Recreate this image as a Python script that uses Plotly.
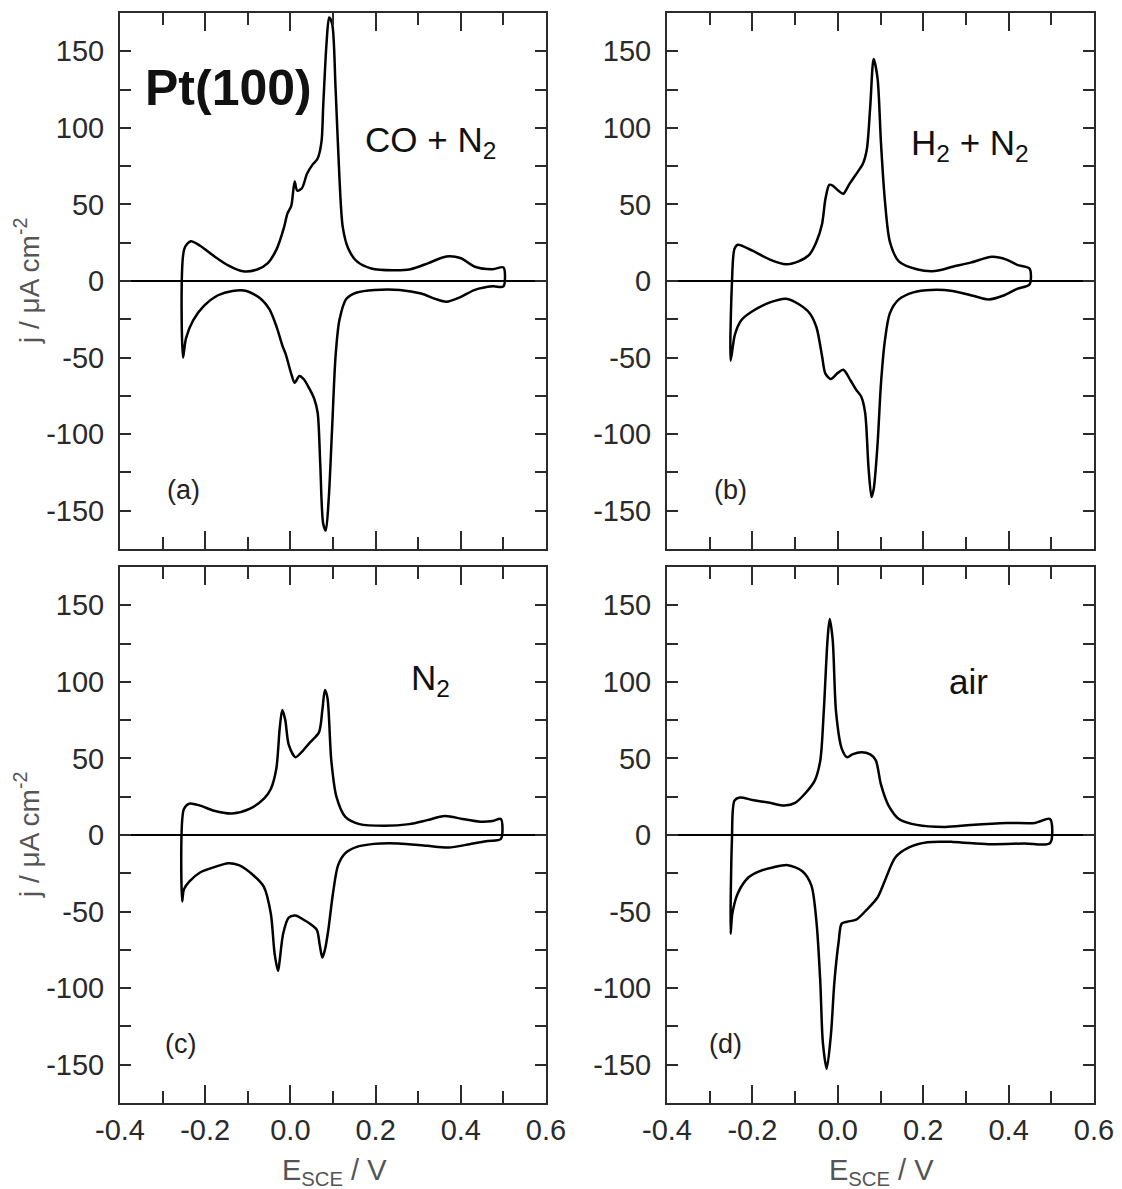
import plotly.graph_objects as go

# ---------------- data (E vs SCE in V, j in uA cm^-2) ----------------
# Panel (a) CO + N2 : anodic branch then cathodic branch (closed loop)
a_E = [-0.252, -0.249, -0.234, -0.212, -0.178, -0.145, -0.111, -0.078, -0.053, -0.032,
       -0.015, -0.007, 0.002, 0.010, 0.016, 0.027, 0.039, 0.052, 0.064, 0.073,
       0.077, 0.085, 0.091, 0.098, 0.106, 0.115, 0.123, 0.136, 0.156, 0.19,
       0.24, 0.282, 0.324, 0.366, 0.399, 0.433, 0.475, 0.5,
       0.5, 0.475, 0.433, 0.399, 0.366, 0.34, 0.307, 0.257, 0.198, 0.156,
       0.131, 0.115, 0.106, 0.098, 0.090, 0.083, 0.077, 0.07, 0.064, 0.056,
       0.044, 0.031, 0.021, 0.010, 0.002, -0.011, -0.019, -0.032, -0.049, -0.069,
       -0.103, -0.136, -0.17, -0.203, -0.228, -0.245, -0.252]
a_j = [-50, 21, 26, 23, 16, 10, 6.3, 7.5, 11.7, 21,
       35, 44, 49, 65, 59, 60.6, 70, 76, 80, 91,
       114, 156, 172, 168, 126, 68, 35, 21, 12.8, 8.2,
       7, 7.7, 11.7, 16, 15, 9.3, 7.7, 8.9,
       -3.5, -3.5, -5.8, -10.5, -13.5, -11.7, -8.2, -5.8, -5.8, -7.5,
       -11.7, -25.6, -49, -95.6, -142, -163, -158.5, -119, -86, -77,
       -70, -64, -62, -66.4, -60.6, -47.8, -42, -30.3, -18.6, -11.7,
       -6.5, -6.5, -9.3, -16.3, -25.6, -37.3, -50]

# Panel (b) H2 + N2
b_E = [-0.251, -0.248, -0.242, -0.234, -0.2, -0.159, -0.121, -0.092, -0.066, -0.05,
       -0.037, -0.029, -0.02, -0.012, 0.0, 0.013, 0.026, 0.043, 0.059, 0.068,
       0.076, 0.084, 0.093, 0.101, 0.110, 0.122, 0.143, 0.185, 0.227, 0.269,
       0.311, 0.361, 0.395, 0.42, 0.449,
       0.449, 0.42, 0.39, 0.353, 0.319, 0.269, 0.219, 0.177, 0.143, 0.122,
       0.110, 0.101, 0.093, 0.084, 0.079, 0.072, 0.064, 0.055, 0.043, 0.03,
       0.013, 0.0, -0.016, -0.029, -0.037, -0.05, -0.066, -0.092, -0.121, -0.159,
       -0.2, -0.226, -0.241, -0.251]
b_j = [-52, -2, 21, 23.7, 19.8, 14, 10.9, 12.8, 17.4, 25.6,
       37, 53.5, 62.8, 62.3, 59.3, 57, 62.8, 69.8, 76.7, 86,
       114, 145, 132.6, 90.7, 53.5, 25.6, 12.8, 7.7, 6.5, 9.3,
       12, 15.8, 14, 10.5, 8.1,
       -2.3, -5.1, -9.3, -12, -9.8, -6.5, -5.8, -7.4, -12, -21,
       -39.5, -67.4, -107, -136, -141, -122, -86, -75.6, -71, -65,
       -58, -60, -64, -60.5, -48.8, -30.2, -21, -15, -11.6, -14,
       -19.8, -25.6, -35, -52]

# Panel (c) N2
c_E = [-0.254, -0.25, -0.237, -0.212, -0.179, -0.137, -0.096, -0.062, -0.046, -0.033,
       -0.025, -0.019, -0.012, -0.004, 0.012, 0.029, 0.046, 0.067, 0.075, 0.081,
       0.087, 0.096, 0.108, 0.129, 0.162, 0.221, 0.279, 0.321, 0.362, 0.404,
       0.446, 0.475, 0.494,
       0.494, 0.463, 0.421, 0.371, 0.321, 0.254, 0.196, 0.154, 0.129, 0.112,
       0.1, 0.089, 0.081, 0.075, 0.069, 0.062, 0.046, 0.029, 0.012, -0.004,
       -0.017, -0.025, -0.029, -0.037, -0.046, -0.062, -0.087, -0.121, -0.146, -0.179,
       -0.212, -0.237, -0.25, -0.254]
c_j = [-43.4, 17, 20.5, 19.2, 15.8, 14, 17, 23.7, 30, 43.4,
       70, 81.6, 75, 59, 50.8, 55, 60.5, 67, 81.6, 94.7,
       89.5, 48.7, 25, 11.8, 7.1, 6, 7.1, 9.7, 12.4, 10.5,
       8.7, 9.2, 10.5,
       -2.6, -3.9, -6, -8.2, -7.1, -5.5, -5.8, -7.9, -11.8, -19.7,
       -38, -62, -75, -80, -72, -62, -58, -55, -52.6, -54,
       -64.5, -81.6, -88.7, -77.6, -51.3, -34, -26.3, -19.7, -18.4, -21,
       -24.5, -30.3, -35.5, -43.4]

# Panel (d) air
d_E = [-0.251, -0.248, -0.242, -0.23, -0.2, -0.159, -0.125, -0.1, -0.075, -0.054,
       -0.041, -0.033, -0.024, -0.019, -0.012, -0.004, 0.009, 0.022, 0.034, 0.055,
       0.076, 0.089, 0.101, 0.118, 0.143, 0.185, 0.252, 0.311, 0.395, 0.462,
       0.497,
       0.497, 0.437, 0.353, 0.269, 0.21, 0.168, 0.135, 0.11, 0.093, 0.068,
       0.043, 0.022, 0.009, 0.002, -0.008, -0.016, -0.026, -0.035, -0.041, -0.05,
       -0.062, -0.083, -0.117, -0.15, -0.184, -0.209, -0.234, -0.247, -0.251]
d_j = [-64.5, -4, 22.4, 24.5, 22.9, 21, 19.2, 21, 27.6, 35.5,
       48.7, 80, 127.6, 141, 127.6, 80, 56.6, 50.8, 52.6, 54,
       52.6, 48.7, 33, 19.7, 10.5, 6.6, 5.3, 6.6, 7.9, 7.9,
       10.5,
       -5.3, -5.5, -6, -4.5, -4.7, -7.9, -14.5, -30, -40.8, -48.7,
       -55.3, -56.6, -57.9, -69.7, -96, -130, -152.6, -135.5, -96, -56.6,
       -32.9, -23.7, -19.7, -21, -23.7, -27.6, -38, -51.3, -64.5]

x_tickvals = [-0.4, -0.2, 0.0, 0.2, 0.4, 0.6]
x_ticktext = ["-0.4", "-0.2", "0.0", "0.2", "0.4", "0.6"]
x_minorvals = [-0.3, -0.1, 0.1, 0.3, 0.5]
y_tickvals = [-150, -100, -50, 0, 50, 100, 150]
y_ticktext = ["-150", "-100", "-50", "0", "50", "100", "150"]
y_minorvals = [-125, -75, -25, 25, 75, 125]

gas_labels = ["CO + N<sub>2</sub>", "H<sub>2</sub> + N<sub>2</sub>", "N<sub>2</sub>", "air"]
panel_labels = ["(a)", "(b)", "(c)", "(d)"]

# ---------------- figure ----------------
W, H = 1122, 1189
FONT = "Liberation Sans, Arial, Helvetica, sans-serif"
FRAME = "#2b2b2b"

def px_x(p):
    return p / W

def px_y(p):
    return 1 - p / H

x_dom = [[px_x(120), px_x(546)], [px_x(667), px_x(1094)],
         [px_x(120), px_x(546)], [px_x(667), px_x(1094)]]
y_dom = [[px_y(549), px_y(13)], [px_y(549), px_y(13)],
         [px_y(1103), px_y(567)], [px_y(1103), px_y(567)]]

series = [(a_E, a_j), (b_E, b_j), (c_E, c_j), (d_E, d_j)]

fig = go.Figure()
for i, (E, j) in enumerate(series):
    sfx = "" if i == 0 else str(i + 1)
    fig.add_trace(go.Scatter(x=E, y=j, mode="lines",
                             line=dict(color="black", width=2.5, shape="spline", smoothing=0.8),
                             xaxis="x" + sfx, yaxis="y" + sfx, showlegend=False,
                             hoverinfo="skip"))

layout = dict(template="none", width=W, height=H, margin=dict(l=0, r=0, t=0, b=0, pad=0),
              paper_bgcolor="white", plot_bgcolor="white", showlegend=False,
              font=dict(family=FONT, color="#2a2a2a"))

for i in range(4):
    sfx = "" if i == 0 else str(i + 1)
    layout["xaxis" + sfx] = dict(
        domain=x_dom[i], anchor="y" + sfx, range=[-0.4, 0.6], automargin=False,
        showline=True, linecolor=FRAME, linewidth=2, mirror="ticks",
        ticks="inside", ticklen=18, tickwidth=2, tickcolor=FRAME,
        tickvals=x_tickvals, ticktext=x_ticktext, showticklabels=(i >= 2),
        tickfont=dict(family=FONT, size=29, color="#2a2a2a"),
        showgrid=False, zeroline=False, fixedrange=True,
        minor=dict(tickvals=x_minorvals, ticks="inside", ticklen=12,
                   tickwidth=2, tickcolor=FRAME, showgrid=False),
    )
    layout["yaxis" + sfx] = dict(
        domain=y_dom[i], anchor="x" + sfx, range=[-175, 175], automargin=False,
        showline=True, linecolor=FRAME, linewidth=2, mirror="ticks",
        ticks="inside", ticklen=11, tickwidth=2, tickcolor=FRAME,
        tickvals=y_tickvals, ticktext=y_ticktext, ticklabelstandoff=8,
        tickfont=dict(family=FONT, size=29, color="#2a2a2a"),
        showgrid=False, zeroline=True, zerolinecolor="black", zerolinewidth=2,
        fixedrange=True,
        minor=dict(tickvals=y_minorvals, ticks="inside", ticklen=11,
                   tickwidth=2, tickcolor=FRAME, showgrid=False),
    )

annotations = []
# gas labels
gas_pos = [(0.33, 91), (0.31, 88.5), (0.33, 101), (0.305, 100.5)]
for i, (txt, (xe, yj)) in enumerate(zip(gas_labels, gas_pos)):
    sfx = "" if i == 0 else str(i + 1)
    annotations.append(dict(text=txt, x=xe, y=yj, xref="x" + sfx, yref="y" + sfx,
                            showarrow=False, xanchor="center", yanchor="middle",
                            font=dict(family=FONT, size=35, color="#111")))
# panel labels
panel_pos = [(-0.252, -136.5), (-0.252, -136.5), (-0.257, -136.5), (-0.262, -136.5)]
for i, (txt, (xe, yj)) in enumerate(zip(panel_labels, panel_pos)):
    sfx = "" if i == 0 else str(i + 1)
    annotations.append(dict(text=txt, x=xe, y=yj, xref="x" + sfx, yref="y" + sfx,
                            showarrow=False, xanchor="center", yanchor="middle",
                            font=dict(family=FONT, size=27, color="#222")))
# Pt(100)
annotations.append(dict(text="<b>Pt(100)</b>", x=-0.146, y=126, xref="x", yref="y",
                        showarrow=False, xanchor="center", yanchor="middle",
                        font=dict(family=FONT, size=50, color="#111")))
# axis titles
for yc in (281, 835):
    annotations.append(dict(text="j / μA cm<sup>-2</sup>", x=px_x(27), y=px_y(yc),
                            xref="paper", yref="paper", textangle=-90,
                            showarrow=False, xanchor="center", yanchor="middle",
                            font=dict(family=FONT, size=28, color="#555")))
for xc in (334, 881):
    annotations.append(dict(text="E<sub>SCE</sub> / V", x=px_x(xc), y=px_y(1172),
                            xref="paper", yref="paper",
                            showarrow=False, xanchor="center", yanchor="middle",
                            font=dict(family=FONT, size=29, color="#555")))
layout["annotations"] = annotations

fig.update_layout(**layout)
fig.write_html("out.html")
